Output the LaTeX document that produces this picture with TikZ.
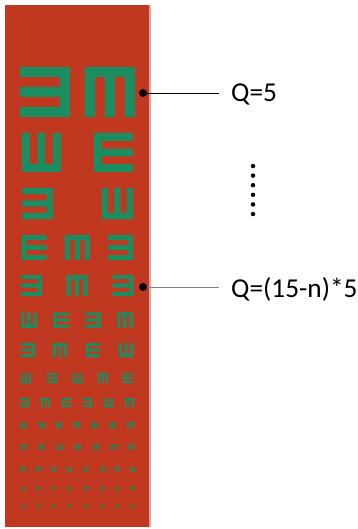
\documentclass[tikz,border=0pt]{standalone}
\usepackage{fontspec}
\setmainfont{Carlito}
\usepackage{xcolor}
\usepackage{tikz}
\usetikzlibrary{positioning}

\definecolor{chartred}{RGB}{192,56,32}
\definecolor{optogreen}{RGB}{26,142,96}

\begin{document}
\begin{tikzpicture}[
  x=1pt, y=-1pt,
  font=\fontsize{27.3}{32}\selectfont,
  optoE/.pic={
    \fill[optogreen] (-2.5,-2.5) rectangle (2.5,-1.5)
                     (-2.5,-0.5) rectangle (2.5,0.5)
                     (-2.5, 1.5) rectangle (2.5,2.5)
                     (-2.5,-2.5) rectangle (-1.5,2.5);
  },
  pin/.style ={circle, fill=black, inner sep=0pt, minimum size=8pt},
  vdot/.style={circle, fill=black, inner sep=0pt, minimum size=4.5pt},
  lead/.style={line width=0.9pt},
  qlabel/.style={anchor=base west, inner sep=0pt},
]
\useasboundingbox (0,0) rectangle (358,529);
% chart board
\fill[chartred] (5,5) rectangle (149,527);
\fill[chartred!45] (149,5) rectangle (151,527);
% rows of tumbling E (0 = E, 90 = up, 180 = back, 270 = down)
\foreach \cx/\r in {45/180, 110/270}
  \pic[scale=10, rotate=\r] at (\cx,92) {optoE};
\foreach \cx/\r in {41.5/90, 113.5/0}
  \pic[scale=7.8, rotate=\r] at (\cx,152.5) {optoE};
\foreach \cx/\r in {37.5/180, 117.5/90}
  \pic[scale=6.2, rotate=\r] at (\cx,203.5) {optoE};
\foreach \cx/\r in {34/0, 77.5/270, 120.5/180}
  \pic[scale=5, rotate=\r] at (\cx,247.5) {optoE};
\foreach \cx/\r in {31.5/180, 77/270, 123/180}
  \pic[scale=4.2, rotate=\r] at (\cx,285.5) {optoE};
\foreach \cx/\r in {29/90, 61/0, 93/180, 125/270}
  \pic[scale=3.1, rotate=\r] at (\cx,320) {optoE};
\foreach \cx/\r in {28/180, 60/270, 93/0, 126/90}
  \pic[scale=2.8, rotate=\r] at (\cx,350) {optoE};
\foreach \cx/\r in {26/90, 52/180, 77.5/90, 103/270, 128/0}
  \pic[scale=2, rotate=\r] at (\cx,378) {optoE};
\foreach \cx/\r in {24.5/180, 45.5/270, 66.5/0, 87.5/180, 108.5/90, 129.5/270}
  \pic[scale=1.8, rotate=\r] at (\cx,402.5) {optoE};
\foreach \cx/\r in {23.7/90, 41.5/180, 59.4/0, 77.2/270, 95/0, 112.9/90, 130.7/270}
  \pic[scale=1.3, rotate=\r] at (\cx,425) {optoE};
\foreach \cx/\r in {24/270, 42/0, 60/90, 78/0, 96/180, 114/270, 131.5/0}
  \pic[scale=1.2, rotate=\r] at (\cx,447) {optoE};
\foreach \cx/\r in {23.3/0, 38.3/270, 53.3/180, 69.3/90, 86/0, 102.7/180, 117.3/270, 132.7/90}
  \pic[scale=1, rotate=\r] at (\cx,469) {optoE};
\foreach \cx/\r in {23.3/90, 38.3/0, 53.3/270, 69.3/180, 86/90, 102.7/0, 117.3/180, 132.7/270}
  \pic[scale=0.8, rotate=\r] at (\cx,488.5) {optoE};
\foreach \cx/\r in {23.3/180, 38.3/90, 53.3/0, 69.3/270, 86/180, 102.7/90, 117.3/0, 132.7/180}
  \pic[scale=0.6, rotate=\r] at (\cx,506.5) {optoE};
% pointers and labels
\node[pin] (pin1) at (143,93) {};
\node[pin] (pin2) at (143,287) {};
\coordinate (tip1) at (219,93);
\coordinate (tip2) at (219,287);
\draw[lead] (pin1) -- (tip1);
\draw[lead, black!50] (pin2) -- (tip2);
\node[qlabel] (q1) at (231,102) {Q=5};
\node[qlabel] (q2) at (231,297) {Q=(15-n)*5};
\foreach \k in {0,...,5}
  \node[vdot] (vd\k) at (253,166+9.6*\k) {};
\end{tikzpicture}
\end{document}
